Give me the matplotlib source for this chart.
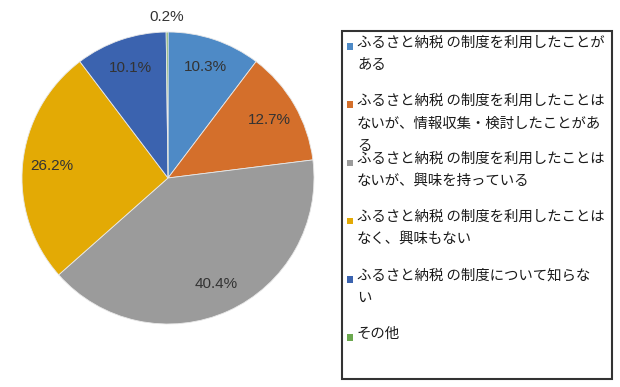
import matplotlib
matplotlib.use("Agg")
import matplotlib.pyplot as plt
import matplotlib.patches as mpatches
import numpy as np

plt.rcParams['font.family'] = ['Noto Sans CJK JP', 'DejaVu Sans']

categories = [
    "ふるさと納税 の制度を利用したことが\nある",
    "ふるさと納税 の制度を利用したことは\nないが、情報収集・検討したことがあ\nる",
    "ふるさと納税 の制度を利用したことは\nないが、興味を持っている",
    "ふるさと納税 の制度を利用したことは\nなく、興味もない",
    "ふるさと納税 の制度について知らな\nい",
    "その他",
]
values = [10.3, 12.7, 40.4, 26.2, 10.1, 0.2]
pct_labels = ["10.3%", "12.7%", "40.4%", "26.2%", "10.1%", "0.2%"]
colors = ["#4E8AC6", "#D46F2B", "#9B9B9B", "#E3AA05", "#3B63AF", "#6BA84F"]

W, H = 620, 387
fig = plt.figure(figsize=(W / 100, H / 100), dpi=100)
fig.patch.set_facecolor("white")

# pie axes
cx, cy, r = 168, 178, 146
ax = fig.add_axes([(cx - r) / W, (H - cy - r) / H, 2 * r / W, 2 * r / H])
wedges, _ = ax.pie(values, colors=colors, startangle=90, counterclock=False,
                   radius=1.0, wedgeprops=dict(edgecolor="#e8e8e8", linewidth=0.6))
ax.set_xlim(-1, 1)
ax.set_ylim(-1, 1)
ax.set_aspect("equal")
ax.axis("off")

for i, (w, lab) in enumerate(zip(wedges, pct_labels)):
    theta = np.deg2rad((w.theta1 + w.theta2) / 2)
    d = 1.1 if values[i] < 1 else 0.8
    ax.text(d * np.cos(theta), d * np.sin(theta), lab, ha="center", va="center",
            fontsize=11, color="#333333", family=["Liberation Sans", "DejaVu Sans"],
            clip_on=False)

# legend box
bx0, by0, bx1, by1 = 341.5, 31, 612, 378.5
box = mpatches.Rectangle((bx0 / W, 1 - by1 / H), (bx1 - bx0) / W, (by1 - by0) / H,
                         transform=fig.transFigure, facecolor="white",
                         edgecolor="#333333", linewidth=1.5)
fig.patches.append(box)

y0, step = 46.5, 58.2
for i, (lab, c) in enumerate(zip(categories, colors)):
    yc = y0 + i * step
    sq = 6.5
    fig.patches.append(mpatches.Rectangle((346.5 / W, 1 - (yc + sq / 2) / H), sq / W, sq / H,
                                          transform=fig.transFigure, facecolor=c,
                                          edgecolor="none"))
    fig.text(357 / W, 1 - (yc - 11) / H, lab, ha="left", va="top", fontsize=10.4,
             color="#1a1a1a", linespacing=1.8)

fig.savefig("out.png", dpi=100, facecolor="white")
